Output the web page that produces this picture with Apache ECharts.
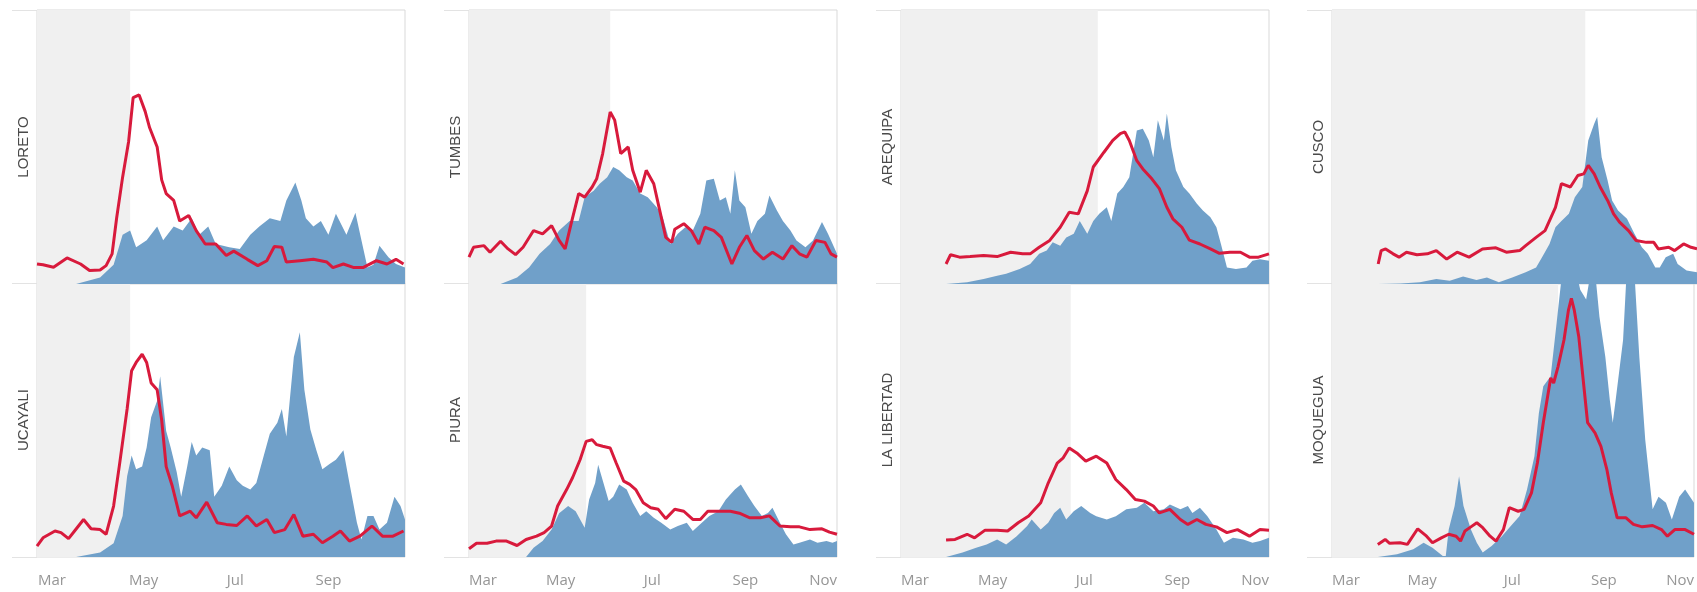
<!DOCTYPE html>
<html>
<head>
<meta charset="utf-8">
<script src="https://cdn.jsdelivr.net/npm/echarts@6/dist/echarts.min.js"></script>
<style>
html,body{margin:0;padding:0;background:#fff;}
#chart{width:1697px;height:592px;}
</style>
</head>
<body>
<div id="chart"></div>
<script>
// x values are days counted from 1 March 2020; y values are % of each panel's height
const tickDays = [0, 61, 122, 184, 245];
const tickLabels = ['Mar', 'May', 'Jul', 'Sep', 'Nov'];

const regionNames = ['LORETO', 'UCAYALI', 'TUMBES', 'PIURA', 'AREQUIPA', 'LA LIBERTAD', 'CUSCO', 'MOQUEGUA'];
const panelStartDay = [-10, -10, 0, 0, 0, 0, 0, 0];
const panelEndDay = [235, 235, 245, 245, 245, 245, 245, 245];
const shadeEndDay = [52, 52, 94, 78, 131, 113, 170, 153];

const loretoRed = [[-10,7.3],[-6,7],[1,6.1],[10,9.5],[19,7.3],[25,4.9],[32,5.1],[36,6.7],[40,11],[43,24],[47,39],[51,52],[54,68],[58,69],[62,63],[65,57],[70,50],[73,38],[76,33],[81,30.5],[85,23],[91,25],[96,19.5],[102,14.6],[109,14.6],[116,10.4],[121,12],[130,9],[137,6.7],[143,8.5],[148,13.7],[153,13.4],[156,8],[165,8.5],[174,9],[183,8],[187,6],[194,7.3],[201,6],[207,6],[216,8.5],[223,7.3],[229,9],[234,7.3]];
const loretoBlue = [[16,0],[32,2.4],[41,7],[47,18],[52,19.5],[56,13.4],[63,16],[70,21],[74,16],[81,21],[87,19.5],[93,24],[98,18],[104,21],[109,14.6],[118,13.4],[125,12.8],[132,18],[138,21],[145,24],[152,23],[156,30.5],[162,37],[166,30.5],[169,24],[174,21],[179,23],[184,18],[189,25.6],[196,18],[202,26],[206,16],[210,6],[214,7],[218,14],[224,9.8],[229,7.3],[235,6]];

const ucayaliRed = [[-10,4],[-6,7],[2,9.5],[6,8.9],[11,6.7],[15,9.5],[21,13.7],[26,10.3],[32,10],[36,8.3],[41,18.6],[45,34],[50,54],[53,68],[56,71],[60,74],[63,71],[66,63.5],[70,61],[73,50],[76,33],[80,26],[85,15],[92,16.7],[96,14.3],[103,20],[110,12.5],[116,11.9],[123,11.5],[130,15],[136,11.3],[143,13.7],[148,8.9],[155,10],[161,15.5],[167,7.6],[174,8.3],[180,5.2],[187,7.6],[192,9.5],[198,5.8],[205,7.6],[213,11.3],[220,7.6],[227,7.6],[234,9.5]];
const ucayaliBlue = [[16,0],[32,1.6],[41,5],[47,15],[50,29.5],[53,37],[56,32],[60,33],[63,40],[66,51],[70,57],[72,66],[76,46],[79,40],[83,31],[86,22],[90,33],[93,42],[96,37],[100,40],[105,39],[108,22],[113,26],[118,33],[123,28],[127,26],[132,24.6],[136,27],[141,37],[145,45],[150,49],[153,54],[156,44],[161,73],[165,82],[168,61],[172,46.5],[176,39],[180,32],[185,34],[189,35.5],[194,39],[198,27],[203,12.5],[206,6.4],[210,15],[214,15],[218,10],[223,12.5],[228,22],[232,18.6],[235,13.7]];

const tumbesRed = [[0,9.8],[3,13.4],[10,14],[14,11.6],[21,15.6],[26,12.8],[31,10.7],[36,13.4],[43,19.5],[49,18.3],[55,21.3],[60,15.9],[64,12.8],[68,22],[73,33],[77,31.7],[82,35.4],[85,38.4],[89,47.6],[94,62.8],[97,59.8],[101,47.6],[106,50],[109,41.5],[114,33.5],[118,41.5],[123,36.6],[127,26.8],[131,17],[135,15.2],[137,20],[143,22],[148,19.5],[153,14.6],[157,20.7],[163,19.5],[168,17],[175,7.3],[180,13.4],[185,17.7],[190,12.2],[196,9.1],[202,11.6],[209,9.1],[215,14],[220,11],[225,9.8],[231,15.9],[237,15.2],[241,11],[245,9.8]];
const tumbesBlue = [[21,0],[32,2.4],[40,6],[47,11],[54,14.6],[60,19.5],[67,23],[73,23],[77,31.7],[83,34],[87,36.6],[92,39],[96,42.7],[100,41.5],[105,39],[109,37.8],[114,33],[119,31.7],[125,28],[129,24.4],[134,14.6],[139,18.3],[144,20.7],[149,19.5],[154,25.6],[158,37.8],[163,38.4],[167,30.5],[171,31.7],[174,25.6],[177,41.5],[180,30.5],[184,28],[188,18.3],[192,23],[197,25.6],[200,32.3],[205,26.8],[209,23],[214,19.5],[218,15.9],[224,13.4],[229,15.9],[235,22.6],[239,18.3],[245,11]];

const piuraRed = [[0,3],[5,5],[12,5],[18,5.8],[25,5.8],[32,4.2],[38,6.4],[45,7.6],[50,8.9],[55,11.3],[59,18.6],[65,24.6],[69,29],[74,35.6],[78,42.2],[82,42.8],[85,41],[89,40.4],[94,39.8],[98,34.3],[103,27.7],[107,26.5],[111,24.6],[116,19.8],[121,18],[126,17.4],[131,14],[137,17.4],[143,16.7],[149,13.7],[154,13.7],[159,16.7],[167,16.7],[174,16.7],[180,16],[187,14.3],[194,14.3],[200,15],[207,11.3],[214,11],[220,11],[227,10],[235,10.3],[240,9.1],[245,8.3]];
const piuraBlue = [[38,0],[43,3.4],[49,5.8],[55,10],[60,16],[66,18.6],[71,16.7],[74,13.7],[77,10.7],[80,21],[84,27],[86,33.7],[89,28],[93,20.4],[96,22],[100,26.5],[105,24.6],[109,19.8],[114,15],[118,16.7],[123,14.3],[128,12.5],[134,10],[139,11.3],[145,12.5],[149,9.5],[155,12.5],[160,15],[166,16.7],[171,21],[177,24.6],[181,26.5],[186,22],[190,18.6],[195,15],[199,16.1],[202,18],[207,12.5],[211,8.3],[216,4.6],[220,5.2],[227,6.4],[232,5.2],[238,5.8],[242,5.2],[245,5.8]];

const arequipaRed = [[30,7.3],[33,10.7],[39,9.8],[46,10],[55,10.4],[64,10],[73,11.6],[81,11],[86,11],[92,13.4],[99,15.9],[106,20.7],[112,26.2],[118,25.6],[124,34],[128,42.7],[135,48],[141,52.4],[146,54.9],[149,55.5],[152,52.4],[157,45],[161,42],[167,38.4],[172,34.8],[177,28],[181,23.8],[187,20.7],[192,16],[199,14.6],[206,12.8],[212,11.2],[219,11.6],[226,11.6],[232,9.8],[238,9.8],[245,11]];
const arequipaBlue = [[30,0],[44,0.6],[55,1.8],[64,3],[70,3.7],[79,5.5],[86,7.3],[92,11],[97,12.2],[101,15.2],[106,14],[110,17],[115,18.3],[119,23],[124,18.3],[128,23],[132,25.6],[137,28],[140,23],[144,33],[148,35.4],[152,39],[157,56],[161,56.7],[165,52.4],[168,46.3],[171,59.8],[175,52.4],[177,62.2],[180,50],[183,41.5],[188,35.4],[192,33],[197,29.3],[201,26.8],[206,24.4],[210,20.7],[213,14.6],[217,6],[223,5.5],[230,6],[234,8.5],[239,9],[245,8.5]];

const laLibertadRed = [[30,6.2],[36,6.4],[44,8.3],[49,7],[56,9.8],[64,9.8],[71,9.5],[78,12.5],[85,15],[93,19.8],[98,27],[104,34.3],[108,36.2],[112,39.8],[117,38],[123,35],[130,36.8],[137,34.3],[143,28.3],[150,24.6],[156,21],[162,20.4],[168,18.6],[172,16.1],[179,17.4],[186,13.7],[191,11.9],[197,13.7],[203,11.9],[210,11],[217,8.9],[224,10],[232,7.6],[239,10],[245,9.8]];
const laLibertadBlue = [[30,0],[41,1.6],[50,3.4],[57,4.6],[64,6.4],[70,4.6],[77,7.6],[84,11.3],[87,13.7],[93,10],[98,12.5],[102,16.1],[106,18],[110,13.7],[115,16.7],[120,18.6],[126,16.1],[130,14.9],[137,13.7],[143,14.9],[150,17.4],[157,18],[162,19.8],[168,16.7],[175,17.4],[179,19.2],[186,17.4],[191,18.6],[194,16.1],[199,18],[204,14.9],[210,10],[215,5.2],[221,7],[228,6.4],[234,5.2],[239,5.8],[245,7]];

const cuscoRed = [[31,7.3],[33,12.2],[36,12.8],[41,11],[45,9.8],[50,11.6],[57,10.7],[64,11],[70,12.2],[77,9.1],[84,11.6],[92,9.8],[101,12.8],[110,13.2],[117,11.6],[126,12.2],[130,14],[137,17],[143,19.5],[150,28],[154,36.6],[160,35.4],[165,39.6],[169,40.2],[172,43.3],[176,40.2],[180,35.4],[185,30.5],[189,25.6],[193,22.6],[199,19.5],[204,15.9],[211,15.2],[216,15.2],[219,12.8],[226,13.4],[230,12.2],[236,14.6],[241,13.4],[245,12.8]];
const cuscoBlue = [[31,0],[46,0.2],[59,0.6],[70,1.8],[79,1.2],[88,2.7],[97,1.5],[104,2.4],[112,0.6],[121,2.4],[130,4.3],[137,6],[141,9.8],[146,14.6],[150,20.7],[154,23],[159,25.6],[163,31.7],[168,35.4],[172,52.4],[176,58.5],[178,61],[181,46.3],[185,37.8],[188,30.5],[192,26.8],[198,23.8],[203,18.3],[208,13.4],[212,11],[217,6],[220,6],[224,9.8],[229,11],[232,7.3],[238,4.9],[245,4.3]];

const moqueguaRed = [[31,4.6],[36,6.4],[39,5],[46,5.2],[51,4.6],[58,10.3],[64,7.6],[68,5.2],[74,7],[79,8.3],[84,7.6],[87,5.8],[90,9.5],[94,11],[98,12.5],[102,10.7],[107,7.6],[111,5.8],[116,10],[120,18],[126,16.7],[130,17.4],[135,23.4],[139,34.3],[143,49],[148,65.3],[150,63.5],[153,69.5],[157,79.2],[160,90],[162,94.4],[164,90],[167,80.5],[170,64.7],[173,49],[178,45.3],[182,40.4],[186,32],[189,23.4],[193,14.3],[199,14.3],[204,11.9],[210,11],[217,11.5],[223,10],[227,7.6],[232,10],[239,10],[245,8.3]];
const moqueguaBlue = [[31,0],[44,1],[55,2.8],[62,5.2],[68,3.4],[75,0.4],[77,0.4],[79,10],[83,18.6],[86,29.5],[89,18.6],[94,10],[98,5.2],[102,1.6],[108,4],[115,7.6],[121,11.3],[127,15],[132,24.6],[137,36.8],[140,52.5],[143,62.3],[148,66],[152,85.3],[157,110],[163,110],[168,97.5],[172,94],[177,110],[181,87.7],[185,73],[188,57.4],[190,49],[192,57.4],[197,79.2],[200,110],[204,110],[208,73],[212,42.8],[217,17.4],[221,22],[226,19.8],[230,13.7],[235,22],[239,24.6],[245,19.8]];

const redSeries = [loretoRed, ucayaliRed, tumbesRed, piuraRed, arequipaRed, laLibertadRed, cuscoRed, moqueguaRed];
const blueSeries = [loretoBlue, ucayaliBlue, tumbesBlue, piuraBlue, arequipaBlue, laLibertadBlue, cuscoBlue, moqueguaBlue];

// layout
const colLeft = [37, 469, 901, 1332];
const panelW = 368;
const rowTop = [10, 283];
const panelH = 274;
const stub = 25;

const BLUE = '#70a0c9';
const RED = '#d81a3c';
const SHADE = '#f0f0f0';
const BORDER = '#d9d9d9';

const grids = [], xAxes = [], yAxes = [], series = [], graphics = [];
for (let i = 0; i < 8; i++) {
  const col = Math.floor(i / 2), row = i % 2;
  grids.push({
    left: colLeft[col], top: rowTop[row], width: panelW, height: panelH,
    show: true, borderColor: BORDER, borderWidth: 1, backgroundColor: 'transparent'
  });
  const custom = tickDays.filter(d => d >= panelStartDay[i] && d <= panelEndDay[i]);
  const edgeMin = custom[0] === panelStartDay[i];
  const edgeMax = custom[custom.length - 1] === panelEndDay[i];
  xAxes.push({
    gridIndex: i, type: 'value', min: panelStartDay[i], max: panelEndDay[i],
    axisLine: {show: false}, axisTick: {show: false}, splitLine: {show: false},
    axisLabel: {
      show: row === 1, customValues: custom,
      formatter: v => tickLabels[tickDays.indexOf(Math.round(v))] || '',
      color: '#969696', fontSize: 15, fontFamily: 'Open Sans, sans-serif', margin: 16,
      alignMinLabel: edgeMin ? 'left' : 'center', alignMaxLabel: edgeMax ? 'right' : 'center'
    }
  });
  yAxes.push({
    gridIndex: i, type: 'value', min: 0, max: 100,
    axisLine: {show: false}, axisTick: {show: false}, splitLine: {show: false},
    axisLabel: {show: false},
    name: regionNames[i], nameLocation: 'middle', nameRotate: 90, nameGap: 6,
    nameTextStyle: {fontSize: 15, color: '#4a4a4a', fontFamily: 'Liberation Sans, Arial, sans-serif'}
  });
  series.push({
    type: 'line', xAxisIndex: i, yAxisIndex: i, data: blueSeries[i],
    symbol: 'none', z: 2, silent: true, clip: true,
    lineStyle: {width: 0, color: BLUE}, itemStyle: {color: BLUE},
    areaStyle: {color: BLUE, opacity: 1},
    markArea: {
      silent: true, z: 1,
      itemStyle: {color: SHADE},
      data: [[{xAxis: panelStartDay[i]}, {xAxis: shadeEndDay[i]}]]
    }
  });
  series.push({
    type: 'line', xAxisIndex: i, yAxisIndex: i, data: redSeries[i],
    symbol: 'none', z: 3, silent: true, clip: true,
    lineStyle: {width: 3, color: RED}, itemStyle: {color: RED}
  });
}
for (let c = 0; c < 4; c++) {
  [rowTop[0], rowTop[1], rowTop[1] + panelH].forEach(y => {
    graphics.push({
      type: 'line', silent: true,
      shape: {x1: colLeft[c] - stub, y1: y + 0.5, x2: colLeft[c], y2: y + 0.5},
      style: {stroke: '#e3e3e3', lineWidth: 1}
    });
  });
}

const chart = echarts.init(document.getElementById('chart'), null, {renderer: 'canvas'});
chart.setOption({
  animation: false,
  backgroundColor: '#ffffff',
  grid: grids, xAxis: xAxes, yAxis: yAxes, series: series, graphic: graphics
});
</script>
</body>
</html>
